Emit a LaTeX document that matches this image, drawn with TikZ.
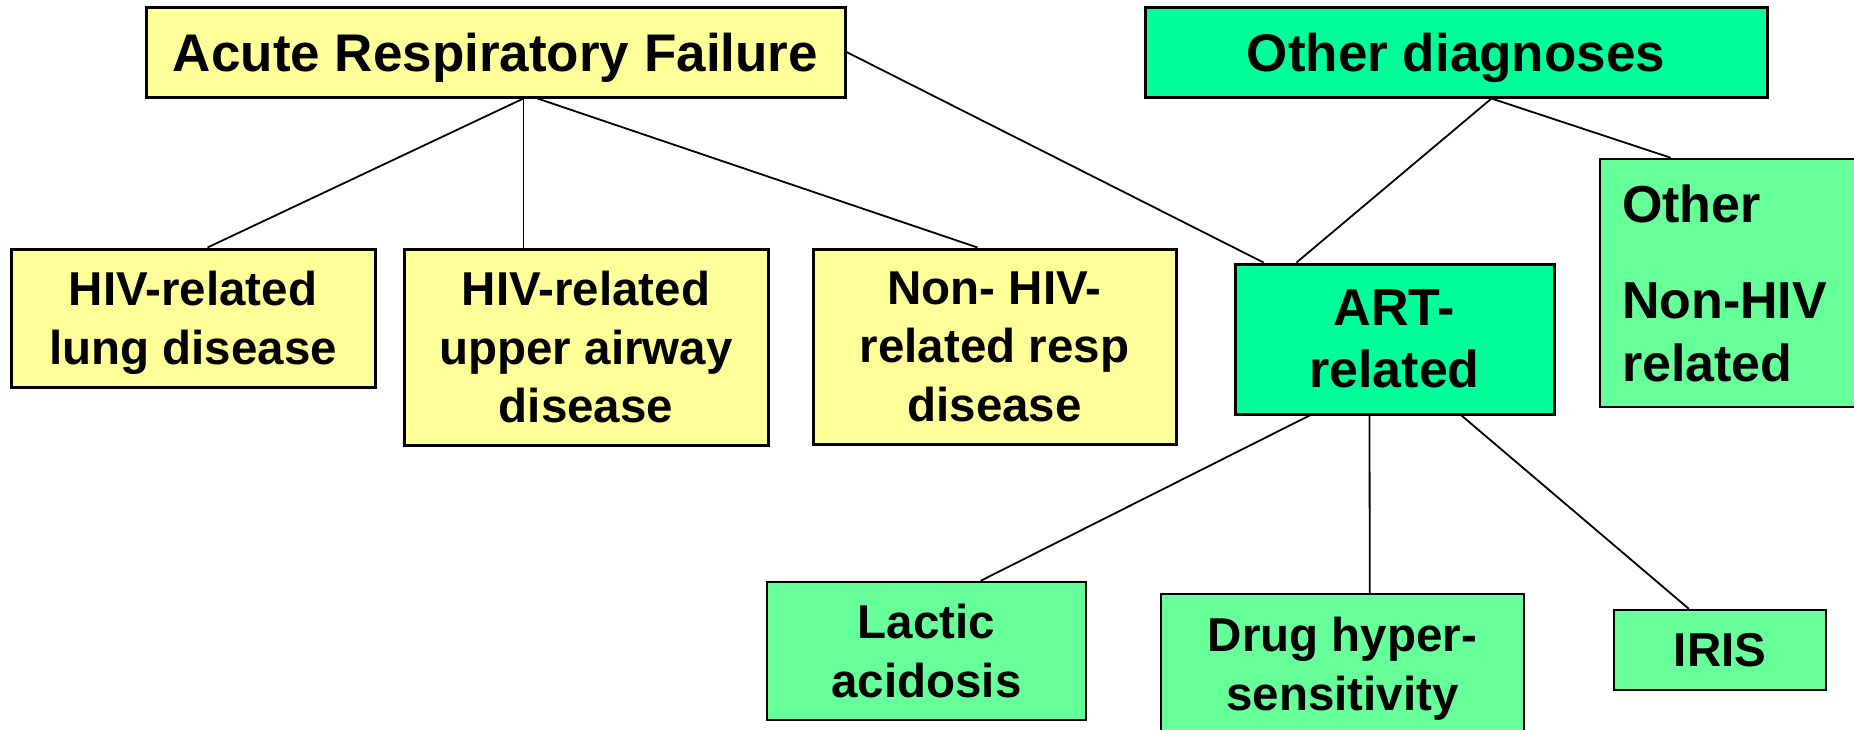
\documentclass[tikz,border=0pt]{standalone}
\usepackage{fontspec}
\setmainfont{Liberation Sans}
\definecolor{ylw}{HTML}{FFFF99}
\definecolor{grn}{HTML}{00FF99}
\definecolor{lgrn}{HTML}{66FF99}
\begin{document}
\begin{tikzpicture}[x=1pt,y=-1pt,
  box/.style={draw=black, line width=3pt, inner sep=0pt, align=center, anchor=center, text depth=0pt, font=\bfseries},
  big/.style={font=\fontsize{53}{62}\selectfont\bfseries},
  small/.style={font=\fontsize{47.5}{58.5}\selectfont\bfseries},
  conn/.style={draw=black, line width=1.8pt}]
\useasboundingbox (0,0) rectangle (1854,729);
\fill[white] (0,0) rectangle (1854,729);
% top level
\node[box, big, fill=ylw, minimum width=699, minimum height=90] (arf) at (495.5,52) {Acute Respiratory Failure};
\node[box, big, fill=grn, minimum width=622, minimum height=90] (oth) at (1456,52) {Other diagnoses};
% second level
\node[box, small, fill=ylw, minimum width=364, minimum height=138] (lung) at (193,318) {HIV-related\\lung disease};
\node[box, small, fill=ylw, minimum width=364, minimum height=196] (upper) at (586,347) {HIV-related\\upper airway\\disease};
\node[box, small, fill=ylw, minimum width=363, minimum height=195] (nonhiv) at (994.5,346.5) {Non- HIV-\\related resp\\disease};
\node[box, font=\fontsize{52}{62}\selectfont\bfseries, fill=grn, minimum width=319, minimum height=150] (art) at (1394.5,339) {ART-\\related};
\node[box, text depth={}, font=\fontsize{52}{63}\selectfont\bfseries, fill=lgrn, line width=2.5pt, minimum width=300, minimum height=248, text width=256, align=left, inner xsep=22pt] (othnh) at (1750,283) {Other\\[33pt]Non-HIV\\related};
% third level
\node[box, small, fill=lgrn, line width=2.5pt, minimum width=319, minimum height=138] (lactic) at (926.5,651) {Lactic\\acidosis};
\node[box, small, fill=lgrn, line width=2.5pt, minimum width=363, minimum height=140] (drug) at (1342.5,664) {Drug hyper-\\sensitivity};
\node[box, small, fill=lgrn, line width=2.5pt, minimum width=212, minimum height=80] (iris) at (1720,650) {IRIS};
% connectors
\draw[conn] ([xshift=379pt]arf.south west) -- ([xshift=198pt]lung.north west);
\draw[conn] ([xshift=379pt]arf.south west) -- ([xshift=121pt]upper.north west);
\draw[conn] ([xshift=393pt]arf.south west) -- ([xshift=166pt]nonhiv.north west);
\draw[conn] (arf.east) -- ([xshift=30pt]art.north west);
\draw[conn] ([xshift=348pt]oth.south west) -- ([xshift=63pt]art.north west);
\draw[conn] ([xshift=348pt]oth.south west) -- ([xshift=72pt]othnh.north west);
\draw[conn] ([xshift=76pt]art.south west) -- ([xshift=215pt]lactic.north west);
\draw[conn] ([xshift=136pt]art.south west) -- ([xshift=210pt]drug.north west);
\draw[conn] ([xshift=228pt]art.south west) -- ([xshift=76pt]iris.north west);
\end{tikzpicture}
\end{document}
